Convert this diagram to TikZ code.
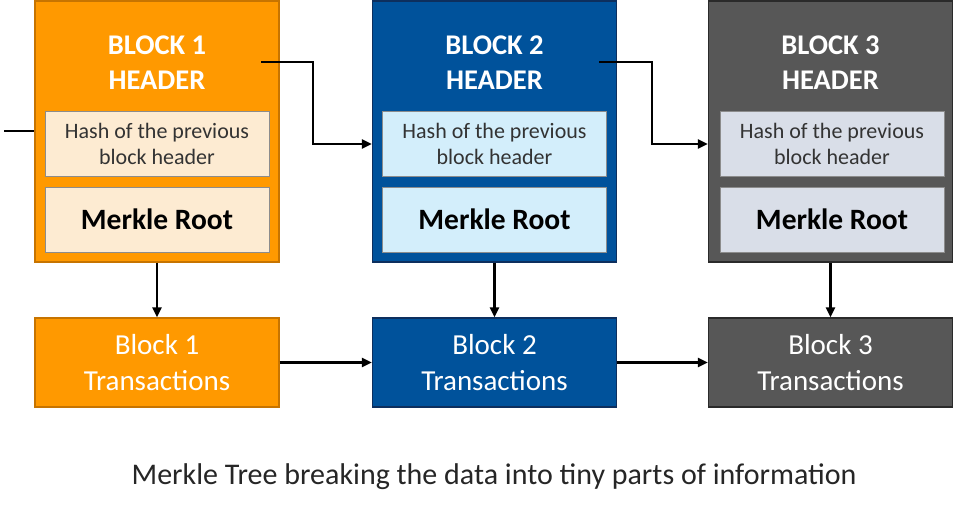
\documentclass[tikz,border=0pt]{standalone}
\usepackage{fontspec}
\setmainfont{Carlito}
\usetikzlibrary{arrows.meta,calc}
\definecolor{orA}{HTML}{FF9900}
\definecolor{orB}{HTML}{C77400}
\definecolor{orL}{HTML}{FDEBD2}
\definecolor{blA}{HTML}{00529B}
\definecolor{blB}{HTML}{0D2F5E}
\definecolor{blL}{HTML}{D3EEFB}
\definecolor{grA}{HTML}{575757}
\definecolor{grB}{HTML}{2A2A2A}
\definecolor{grL}{HTML}{D9DEE8}
\definecolor{txD}{HTML}{333333}
\tikzset{
  hdrbox/.style={draw, line width=1.2pt, minimum width=244pt, minimum height=261pt, inner sep=0pt},
  trbox/.style={draw, line width=1.2pt, minimum width=244pt, minimum height=89pt, inner sep=0pt, text=white, align=center, font=\fontsize{29}{36}\selectfont},
  hashbox/.style={draw=black!45, line width=0.8pt, minimum width=224pt, minimum height=65pt, inner sep=0pt, align=center, text=txD, font=\fontsize{22}{26}\selectfont},
  mrbox/.style={draw=black!45, line width=0.8pt, minimum width=224pt, minimum height=65pt, inner sep=0pt, align=center, text=black, font=\fontsize{29.5}{32}\selectfont\bfseries},
  hdrtxt/.style={text=white, align=center, font=\fontsize{28.5}{35}\selectfont\bfseries},
  conn/.style={line width=2.6pt, -{Triangle[length=10pt,width=9pt]}},
  plain/.style={line width=2.6pt}
}
\begin{document}
\begin{tikzpicture}[x=1pt, y=-1pt]
\useasboundingbox (0,0) rectangle (956,514);
% headers
\node[hdrbox, fill=orA, draw=orB] (h1) at (157,131.5) {};
\node[hdrbox, fill=blA, draw=blB] (h2) at (494.5,131.5) {};
\node[hdrbox, fill=grA, draw=grB] (h3) at (830.5,131.5) {};
\node[hdrtxt] (l1) at (157,63) {BLOCK 1\\HEADER};
\node[hdrtxt] (l2) at (494.5,63) {BLOCK 2\\HEADER};
\node[hdrtxt] (l3) at (830.5,63) {BLOCK 3\\HEADER};
\node[hashbox, fill=orL] (p1) at (157,143.5) {Hash of the previous\\block header};
\node[hashbox, fill=blL] (p2) at (494.5,143.5) {Hash of the previous\\block header};
\node[hashbox, fill=grL] (p3) at (832,143.5) {Hash of the previous\\block header};
\node[mrbox, fill=orL] (m1) at (157,219.5) {Merkle Root};
\node[mrbox, fill=blL] (m2) at (494.5,219.5) {Merkle Root};
\node[mrbox, fill=grL] (m3) at (832,219.5) {Merkle Root};
% transactions
\node[trbox, fill=orA, draw=orB] (t1) at (157,362.5) {Block 1\\Transactions};
\node[trbox, fill=blA, draw=blB] (t2) at (494.5,362.5) {Block 2\\Transactions};
\node[trbox, fill=grA, draw=grB] (t3) at (830.5,362.5) {Block 3\\Transactions};
% connectors
\coordinate (in0) at (4,131);
\draw[plain] (in0) -- (in0 -| h1.west);
\coordinate (s1) at (261,62);
\coordinate (s2) at (599,62);
\coordinate (k1) at (313,144);
\coordinate (k2) at (652,144);
\draw[conn] (s1) -- (s1 -| k1) -- (k1) -- (k1 -| h2.west);
\draw[conn] (s2) -- (s2 -| k2) -- (k2) -- (k2 -| h3.west);
\draw[conn] (h1.south) -- (t1.north);
\draw[conn] (h2.south) -- (t2.north);
\draw[conn] (h3.south) -- (t3.north);
\draw[conn] (t1) -- (t2);
\draw[conn] (t2) -- (t3);
\node[text=black!85, font=\fontsize{30}{34}\selectfont] (cap) at (494,477) {Merkle Tree breaking the data into tiny parts of information};
\end{tikzpicture}
\end{document}
